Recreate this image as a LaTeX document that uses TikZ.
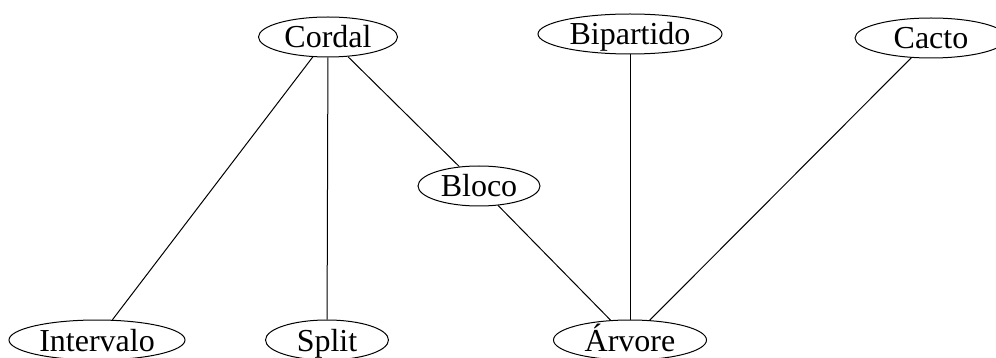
\documentclass[tikz,border=0pt]{standalone}
\usepackage{fontspec}
\setmainfont{Liberation Serif}
\usetikzlibrary{shapes.geometric}

\begin{document}
\begin{tikzpicture}[
  x=1pt, y=-1pt,
  line width=1pt,
  classe/.style={draw, ellipse, inner xsep=0pt, inner ysep=0pt, minimum height=40pt,
    text height=22pt, text depth=0pt, font=\fontsize{32}{34}\selectfont}
]
\useasboundingbox (0,0) rectangle (996,358);

% Top row
\node[classe, minimum width=139pt] (cordal) at (328, 37)  {Cordal};
\node[classe, minimum width=184pt] (bip)    at (630, 34)  {Bipartido};
\node[classe, minimum width=152pt] (cacto)  at (931, 38)  {Cacto};

% Middle
\node[classe, minimum width=122pt] (bloco)  at (479, 186) {Bloco};

% Bottom row
\node[classe, minimum width=176pt] (interv) at (97, 340)  {Intervalo};
\node[classe, minimum width=123pt] (split)  at (327, 340) {Split};
\node[classe, minimum width=153pt] (arvore) at (630, 340) {Árvore};

% Edges
\draw (cordal) -- (interv);
\draw (cordal) -- (split);
\draw (cordal) -- (bloco);
\draw (bloco)  -- (arvore);
\draw (bip)    -- (arvore);
\draw (cacto)  -- (arvore);

\end{tikzpicture}
\end{document}
